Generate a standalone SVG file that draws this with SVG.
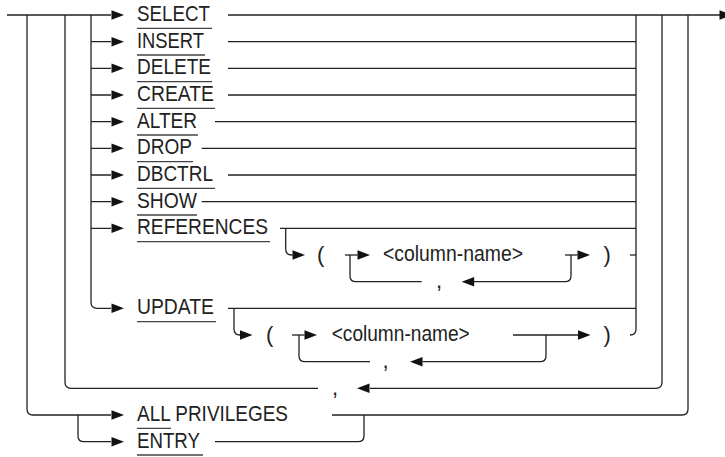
<svg xmlns="http://www.w3.org/2000/svg" xmlns:xlink="http://www.w3.org/1999/xlink" width="725" height="457" viewBox="0 0 725 457">
<style>
  .ln{fill:none;stroke:#222;stroke-width:1.3}
  .ul{fill:none;stroke:#444;stroke-width:1.3}
  .t{font-family:"Liberation Sans",Arial,sans-serif;font-size:22px;fill:#222}
</style>
<defs>
  <path id="ar" d="M-12.5,-4.8 L0,0 L-12.5,4.8 Z" fill="#111"/>
  <path id="al" d="M12.5,-4.8 L0,0 L12.5,4.8 Z" fill="#111"/>
</defs>
<rect width="725" height="457" fill="#fff"/>
<g id="connectors">
  <path class="ln" d="M7,15 H111"/>
  <path class="ln" d="M228,15 H720"/>
  <use xlink:href="#ar" x="732" y="15"/>
  <path class="ln" d="M91,41.7 H111 M91,68.3 H111 M91,95 H111 M91,121.7 H111 M91,148.3 H111 M91,175 H111 M91,201.7 H111 M91,228.3 H111"/>
  <path class="ln" d="M27,15 V409 Q27,415 33,415 H111"/>
  <path class="ln" d="M78,415 V435.7 Q78,441.7 84,441.7 H111"/>
  <path class="ln" d="M65,15 V382.3 Q65,388.3 71,388.3 H318"/>
  <path class="ln" d="M370,388.3 H656 Q662,388.3 662,382.3 V15"/>
  <path class="ln" d="M91,15 V302.3 Q91,308.3 97,308.3 H111"/>
  <use xlink:href="#ar" x="124" y="15"/>
  <use xlink:href="#ar" x="124" y="41.7"/>
  <use xlink:href="#ar" x="124" y="68.3"/>
  <use xlink:href="#ar" x="124" y="95"/>
  <use xlink:href="#ar" x="124" y="121.7"/>
  <use xlink:href="#ar" x="124" y="148.3"/>
  <use xlink:href="#ar" x="124" y="175"/>
  <use xlink:href="#ar" x="124" y="201.7"/>
  <use xlink:href="#ar" x="124" y="228.3"/>
  <use xlink:href="#ar" x="124" y="308.3"/>
  <use xlink:href="#ar" x="124" y="415"/>
  <use xlink:href="#ar" x="124" y="441.7"/>
  <use xlink:href="#al" x="357" y="388.3"/>
  <path class="ln" d="M228,41.7 H636 M228,68.3 H636 M228,95 H636 M215,121.7 H636 M201.7,148.3 H636 M228,175 H636 M201.7,201.7 H636 M280,228.3 H636 M228,308.3 H636"/>
  <path class="ln" d="M636,15 V329 Q636,335 630,335"/>
  <path class="ln" d="M688,15 V409 Q688,415 682,415 H332"/>
  <path class="ln" d="M364,415 V435.7 Q364,441.7 358,441.7 H215"/>
  <!-- REFERENCES sub -->
  <path class="ln" d="M285.7,228.3 V249 Q285.7,255 291.7,255 H292.5"/>
  <use xlink:href="#ar" x="305" y="255"/>
  <path class="ln" d="M345,255 H357.5"/>
  <use xlink:href="#ar" x="370" y="255"/>
  <path class="ln" d="M350,255 V275.7 Q350,281.7 356,281.7 H421.7"/>
  <use xlink:href="#al" x="461.7" y="281.7"/>
  <path class="ln" d="M474,281.7 H565 Q571,281.7 571,275.7 V255"/>
  <path class="ln" d="M565,255 H577.5"/>
  <use xlink:href="#ar" x="590" y="255"/>
  <path class="ln" d="M630,255 H636"/>
  <!-- UPDATE sub -->
  <path class="ln" d="M234,308.3 V329 Q234,335 240,335"/>
  <use xlink:href="#ar" x="252.5" y="335"/>
  <path class="ln" d="M292,335 H304.5"/>
  <use xlink:href="#ar" x="317" y="335"/>
  <path class="ln" d="M299,335 V355.7 Q299,361.7 305,361.7 H370"/>
  <use xlink:href="#al" x="410" y="361.7"/>
  <path class="ln" d="M422.5,361.7 H540 Q546,361.7 546,355.7 V335"/>
  <path class="ln" d="M513,335 H578"/>
  <use xlink:href="#ar" x="590.5" y="335"/>
</g>
<g id="n-select"><text class="t" x="137" y="21" textLength="73" lengthAdjust="spacingAndGlyphs">SELECT</text><path class="ul" d="M137,28.3 H212"/></g>
<g id="n-insert"><text class="t" x="137" y="47.7" textLength="67" lengthAdjust="spacingAndGlyphs">INSERT</text><path class="ul" d="M137,55 H205"/></g>
<g id="n-delete"><text class="t" x="137" y="74.3" textLength="74" lengthAdjust="spacingAndGlyphs">DELETE</text><path class="ul" d="M137,81.7 H212"/></g>
<g id="n-create"><text class="t" x="137" y="101" textLength="77" lengthAdjust="spacingAndGlyphs">CREATE</text><path class="ul" d="M137,108.3 H215"/></g>
<g id="n-alter"><text class="t" x="137" y="127.7" textLength="60" lengthAdjust="spacingAndGlyphs">ALTER</text><path class="ul" d="M137,135 H198"/></g>
<g id="n-drop"><text class="t" x="137" y="154.3" textLength="55" lengthAdjust="spacingAndGlyphs">DROP</text><path class="ul" d="M137,161.7 H193"/></g>
<g id="n-dbctrl"><text class="t" x="137" y="181" textLength="76" lengthAdjust="spacingAndGlyphs">DBCTRL</text><path class="ul" d="M137,188.3 H215"/></g>
<g id="n-show"><text class="t" x="137" y="207.7" textLength="60" lengthAdjust="spacingAndGlyphs">SHOW</text><path class="ul" d="M137,215 H197"/></g>
<g id="n-references"><text class="t" x="137" y="234.3" textLength="131" lengthAdjust="spacingAndGlyphs">REFERENCES</text><path class="ul" d="M137,241.7 H270"/></g>
<g id="n-ref-open"><text class="t" x="317" y="261.5">(</text></g>
<g id="n-ref-col"><text class="t" x="383" y="261" textLength="140" lengthAdjust="spacingAndGlyphs">&lt;column-name&gt;</text></g>
<g id="n-ref-comma"><text class="t" x="436" y="288">,</text></g>
<g id="n-ref-close"><text class="t" x="603.5" y="261.5">)</text></g>
<g id="n-update"><text class="t" x="137" y="314.3" textLength="77" lengthAdjust="spacingAndGlyphs">UPDATE</text><path class="ul" d="M137,321.7 H216"/></g>
<g id="n-upd-open"><text class="t" x="266" y="341.5">(</text></g>
<g id="n-upd-col"><text class="t" x="331.7" y="341" textLength="138" lengthAdjust="spacingAndGlyphs">&lt;column-name&gt;</text></g>
<g id="n-upd-comma"><text class="t" x="382.5" y="368">,</text></g>
<g id="n-upd-close"><text class="t" x="603.5" y="341.5">)</text></g>
<g id="n-comma"><text class="t" x="332" y="394.6">,</text></g>
<g id="n-all"><text class="t" x="137" y="421" textLength="151" lengthAdjust="spacingAndGlyphs">ALL PRIVILEGES</text><path class="ul" d="M137,428.3 H171"/></g>
<g id="n-entry"><text class="t" x="137" y="447.7" textLength="63" lengthAdjust="spacingAndGlyphs">ENTRY</text><path class="ul" d="M137,455 H203"/></g>
</svg>
